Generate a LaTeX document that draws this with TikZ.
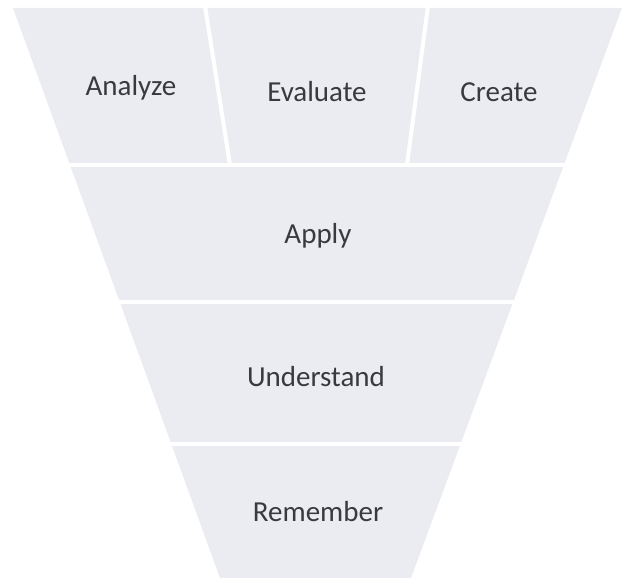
\documentclass[tikz,border=0pt]{standalone}
\usepackage{fontspec}
\setmainfont{Carlito}

\definecolor{band}{HTML}{EAECF1}
\definecolor{ink}{HTML}{3A3A3E}

\tikzset{
  level/.style={font=\fontsize{14.5}{16}\selectfont, text=ink},
  gap/.style={white, line width=2pt}
}

\begin{document}
\begin{tikzpicture}[x=0.5pt,y=-0.5pt]

  \useasboundingbox (0,0) rectangle (627,581);

  \coordinate (tl) at (13,8);
  \coordinate (tr) at (622,8);
  \coordinate (br) at (411,578);
  \coordinate (bl) at (220,578);

  \fill[band] (tl) -- (tr) -- (br) -- (bl) -- cycle;

  \draw[gap] (50,165) -- (580,165);
  \draw[gap] (100,302) -- (530,302);
  \draw[gap] (150,444) -- (480,444);

  \draw[gap] (205,6) -- (230,165);
  \draw[gap] (428,6) -- (407,165);

  \node[level] (analyze) at (131,88) {Analyze};
  \node[level] (evaluate) at (317,92) {Evaluate};
  \node[level] (create) at (499,92) {Create};

  \node[level] (apply) at (318,236) {Apply};
  \node[level] (understand) at (316,377) {Understand};
  \node[level] (remember) at (318,512) {Remember};

\end{tikzpicture}
\end{document}
